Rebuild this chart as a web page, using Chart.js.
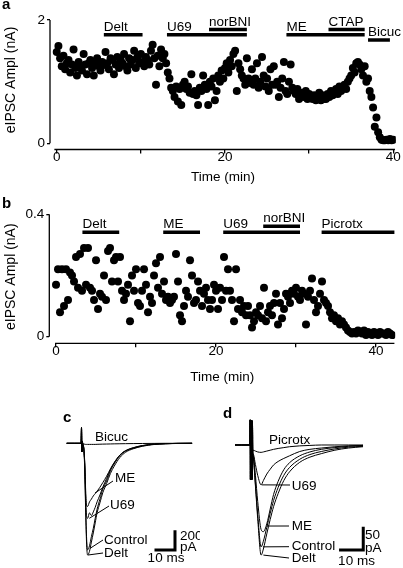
<!DOCTYPE html>
<html>
<head>
<meta charset="utf-8">
<script src="https://cdn.jsdelivr.net/npm/chart.js@4.4.1/dist/chart.umd.min.js"></script>
<style>
  body { margin: 0; background: #fff; }
  #wrap { position: relative; width: 403px; height: 568px; }
  canvas { position: absolute; }
</style>
</head>
<body>
<div id="wrap">
  <canvas id="chartA" width="403" height="190" style="left:0px;top:0px"></canvas>
  <canvas id="chartB" width="403" height="200" style="left:0px;top:190px"></canvas>
  <canvas id="chartC" width="200" height="178" style="left:0px;top:390px"></canvas>
  <canvas id="chartD" width="203" height="178" style="left:200px;top:390px"></canvas>
</div>
<script>
const FONT = "'Liberation Sans', Arial, sans-serif";
Chart.defaults.font.family = FONT;
Chart.defaults.font.size = 13.5;
Chart.defaults.color = '#000';

// ---- panel a : eIPSC amplitude (nA) vs time (min)
const timeA = [
  0, 0.2, 0.4, 0.6, 0.8, 1, 1.2, 1.4, 1.6, 1.8,
  2, 2.2, 2.4, 2.6, 2.8, 3, 3.2, 3.4, 3.6, 3.8,
  4, 4.2, 4.4, 4.6, 4.8, 5, 5.2, 5.4, 5.6, 5.8,
  6, 6.2, 6.4, 6.6, 6.8, 7, 7.2, 7.4, 7.6, 7.8,
  8, 8.2, 8.4, 8.6, 8.8, 9, 9.2, 9.4, 9.6, 9.8,
  10, 10.2, 10.4, 10.6, 10.8, 11, 11.2, 11.4, 11.6, 11.8,
  12, 12.2, 12.4, 12.6, 12.8, 13, 13.2, 13.4, 13.6, 13.8,
  14, 14.2, 14.4, 14.6, 14.8, 15, 15.2, 15.4, 15.6, 15.8,
  16, 16.2, 16.4, 16.6, 16.8, 17, 17.2, 17.4, 17.6, 17.8,
  18, 18.2, 18.4, 18.6, 18.8, 19, 19.2, 19.4, 19.6, 19.8,
  20, 20.2, 20.4, 20.6, 20.8, 21, 21.2, 21.4, 21.6, 21.8,
  22, 22.2, 22.4, 22.6, 22.8, 23, 23.2, 23.4, 23.6, 23.8,
  24, 24.2, 24.4, 24.6, 24.8, 25, 25.2, 25.4, 25.6, 25.8,
  26, 26.2, 26.4, 26.6, 26.8, 27, 27.2, 27.4, 27.6, 27.8,
  28, 28.2, 28.4, 28.6, 28.8, 29, 29.2, 29.4, 29.6, 29.8,
  30, 30.2, 30.4, 30.6, 30.8, 31, 31.2, 31.4, 31.6, 31.8,
  32, 32.2, 32.4, 32.6, 32.8, 33, 33.2, 33.4, 33.6, 33.8,
  34, 34.2, 34.4, 34.6, 34.8, 35, 35.2, 35.4, 35.6, 35.8,
  36, 36.2, 36.4, 36.6, 36.8, 37, 37.2, 37.4, 37.6, 37.8,
  38, 38.2, 38.4, 38.6, 38.8, 39, 39.2, 39.4, 39.6, 39.8,
  40
];
const ampA = [
  1.48, 1.58, 1.38, 1.25, 1.42, 1.20, 1.30, 1.35, 1.15, 1.28,
  1.52, 1.22, 1.10, 1.32, 1.25, 1.18, 1.45, 1.28, 1.12, 1.30,
  1.35, 1.22, 1.10, 1.30, 1.38, 1.25, 1.18, 1.32, 1.27, 1.48,
  1.30, 1.20, 1.38, 1.35, 1.12, 1.28, 1.40, 1.22, 1.35, 1.30,
  1.45, 1.25, 1.18, 1.38, 1.28, 1.35, 1.50, 1.22, 1.40, 1.30,
  1.45, 1.32, 1.25, 1.40, 1.35, 1.28, 1.50, 1.60, 1.38, 0.95,
  1.42, 1.25, 1.52, 1.38, 1.45, 1.30, 1.15, 1.05, 0.90, 0.85,
  0.75, 0.92, 0.68, 0.88, 0.62, 0.95, 1.00, 0.88, 0.92, 0.82,
  1.12, 0.80, 0.85, 0.78, 0.62, 0.90, 0.85, 1.10, 0.95, 0.88,
  0.62, 1.00, 0.92, 1.05, 0.70, 0.85, 1.10, 1.00, 1.18, 1.05,
  1.22, 1.30, 1.15, 1.35, 1.25, 1.45, 1.50, 0.85, 1.30, 1.20,
  1.10, 1.05, 0.95, 1.38, 1.05, 0.98, 1.20, 0.95, 1.05, 1.30,
  0.90, 1.00, 1.40, 1.10, 0.92, 1.05, 0.85, 1.20, 0.95, 1.25,
  0.95, 1.00, 0.75, 0.90, 1.05, 1.32, 0.85, 0.80, 1.00, 1.28,
  0.90, 0.85, 0.80, 0.88, 0.72, 0.82, 0.78, 0.75, 0.85, 0.72,
  0.80, 0.75, 0.72, 0.78, 0.70, 0.75, 0.82, 0.70, 0.78, 0.72,
  0.72, 0.80, 0.75, 0.85, 0.78, 0.82, 0.88, 0.80, 0.92, 0.85,
  0.90, 0.95, 0.88, 1.00, 1.05, 1.10, 1.22, 1.15, 1.30, 1.32,
  1.28, 1.20, 1.10, 1.25, 1.00, 1.05, 0.85, 0.75, 0.58, 0.27,
  0.42, 0.18, 0.10, 0.06, 0.05, 0.05, 0.06, 0.05, 0.07, 0.05,
  0.06
];
const drugsA = ['Delt', 'U69', 'norBNI', 'ME', 'CTAP', 'Bicuc'];
const drugOnA = [5.6, 13.1, 18.1, 27.3, 32.3, 37.0];
const drugOffA = [10.2, 22.6, 22.6, 36.6, 36.6, 39.6];

// ---- panel b
const timeB = [
  0, 0.25, 0.5, 0.75, 1, 1.25, 1.5, 1.75,
  2, 2.25, 2.5, 2.75, 3, 3.25, 3.5, 3.75,
  4, 4.25, 4.5, 4.75, 5, 5.25, 5.5, 5.75,
  6, 6.25, 6.5, 6.75, 7, 7.25, 7.5, 7.75,
  8, 8.25, 8.5, 8.75, 9, 9.25, 9.5, 9.75,
  10, 10.25, 10.5, 10.75, 11, 11.25, 11.5, 11.75,
  12, 12.25, 12.5, 12.75, 13, 13.25, 13.5, 13.75,
  14, 14.25, 14.5, 14.75, 15, 15.25, 15.5, 15.75,
  16, 16.25, 16.5, 16.75, 17, 17.25, 17.5, 17.75,
  18, 18.25, 18.5, 18.75, 19, 19.25, 19.5, 19.75,
  20, 20.25, 20.5, 20.75, 21, 21.25, 21.5, 21.75,
  22, 22.25, 22.5, 22.75, 23, 23.25, 23.5, 23.75,
  24, 24.25, 24.5, 24.75, 25, 25.25, 25.5, 25.75,
  26, 26.25, 26.5, 26.75, 27, 27.25, 27.5, 27.75,
  28, 28.25, 28.5, 28.75, 29, 29.25, 29.5, 29.75,
  30, 30.25, 30.5, 30.75, 31, 31.25, 31.5, 31.75,
  32, 32.25, 32.5, 32.75, 33, 33.25, 33.5, 33.75,
  34, 34.25, 34.5, 34.75, 35, 35.25, 35.5, 35.75,
  36, 36.25, 36.5, 36.75, 37, 37.25, 37.5, 37.75,
  38, 38.25, 38.5, 38.75, 39, 39.25, 39.5, 39.75,
  40, 40.25, 40.5, 40.75, 41, 41.25, 41.5, 41.75,
  42
];
const ampB = [
  0.17, 0.22, 0.08, 0.22, 0.10, 0.22, 0.12, 0.21,
  0.20, 0.18, 0.26, 0.16, 0.27, 0.15, 0.29, 0.17,
  0.29, 0.16, 0.15, 0.12, 0.25, 0.09, 0.14, 0.13,
  0.20, 0.12, 0.28, 0.29, 0.18, 0.25, 0.26, 0.18,
  0.26, 0.15, 0.12, 0.14, 0.17, 0.05, 0.20, 0.15,
  0.22, 0.11, 0.10, 0.15, 0.22, 0.17, 0.08, 0.13,
  0.11, 0.20, 0.24, 0.16, 0.26, 0.14, 0.18, 0.12,
  0.13, 0.11, 0.12, 0.13, 0.27, 0.18, 0.07, 0.05,
  0.10, 0.15, 0.13, 0.25, 0.20, 0.11, 0.12, 0.18,
  0.15, 0.10, 0.14, 0.16, 0.12, 0.09, 0.12, 0.17,
  0.15, 0.09, 0.16, 0.12, 0.26, 0.15, 0.22, 0.15,
  0.12, 0.05, 0.22, 0.09, 0.12, 0.08, 0.10, 0.07,
  0.10, 0.07, 0.03, 0.05, 0.08, 0.07, 0.10, 0.06,
  0.16, 0.05, 0.08, 0.10, 0.07, 0.11, 0.14, 0.04,
  0.11, 0.06, 0.09, 0.14, 0.13, 0.11, 0.15, 0.14,
  0.16, 0.13, 0.12, 0.15, 0.14, 0.04, 0.13, 0.15,
  0.19, 0.12, 0.08, 0.10, 0.14, 0.18, 0.12, 0.11,
  0.10, 0.08, 0.06, 0.07, 0.05, 0.06, 0.04, 0.05,
  0.04, 0.03, 0.02, 0.015, 0.01, 0.015, 0.01, 0.02,
  0.015, 0.01, 0.02, 0.005, 0.015, 0.01, 0.005, 0.015,
  0.01, 0.005, 0.015, 0.01, 0.01, 0.005, 0.015, 0.01,
  0.005
];
const drugsB = ['Delt', 'ME', 'U69', 'norBNI', 'Picrotx'];
const drugOnB = [3.3, 13.4, 20.9, 25.9, 33.2];
const drugOffB = [7.9, 18.0, 30.5, 30.5, 42.3];

// ---- panel c : averaged eIPSC traces (pA vs ms)
const timeC = [0, 4, 7.6, 7.8, 8.0, 8.2, 8.5, 9.0, 9.5, 10.0, 10.5, 11, 12, 13, 14, 15, 16, 17.5, 19, 21, 23, 25, 28, 31, 35, 40, 46, 52, 58, 66];
const controlC = [0, 0, 0, 170, -95, 20, -10, -60, -250, -700, -1050, -1165, -1120, -1020, -930, -820, -720, -610, -500, -410, -300, -225, -135, -85, -55, -28, -10, -4, -1, 0];
const deltC = [0, 0, 0, 170, -95, 20, -10, -70, -290, -760, -1110, -1220, -1180, -1080, -980, -870, -760, -650, -540, -440, -330, -250, -155, -98, -60, -32, -13, -5, -2, 0];
const u69C = [0, 0, 0, 170, -95, 20, -10, -55, -230, -600, -800, -820, -760, -790, -750, -700, -640, -565, -480, -385, -290, -215, -130, -82, -50, -25, -10, -4, -1, 0];
const meC = [0, 0, 0, 170, -95, 20, -10, -50, -210, -520, -680, -690, -640, -610, -575, -550, -525, -480, -430, -360, -280, -210, -128, -80, -48, -24, -10, -4, -1, 0];
const bicucC = [0, 0, 0, 170, -95, 20, -10, -8, -10, -12, -12, -12, -12, -12, -12, -12, -11, -10, -9, -8, -7, -6, -5, -4, -3, -2, -1, 0, 0, 0];

// ---- panel d
const timeD = [0, 3, 6.6, 6.7, 6.8, 6.9, 7.0, 7.1, 7.2, 7.3, 7.4, 7.5, 7.6, 7.7, 7.8, 8.0, 9, 10, 11.5, 12.5, 14, 15.5, 17, 19, 21.5, 24, 28.5, 33, 38, 44, 50, 56.4];
const controlD = [0, 0, 0, 58, -80, 55, -78, 57, -80, 52, -76, 56, -79, 50, -15, -25, -90, -160, -235, -222, -190, -158, -128, -98, -70, -52, -33, -22, -15, -9, -5, -3];
const deltD = [0, 0, 0, 58, -80, 55, -78, 57, -80, 52, -76, 56, -79, 50, -15, -27, -95, -170, -254, -240, -205, -172, -142, -112, -82, -62, -40, -28, -20, -12, -7, -4];
const meD = [0, 0, 0, 58, -80, 55, -78, 57, -80, 52, -76, 56, -79, 50, -15, -22, -70, -130, -195, -200, -182, -148, -114, -84, -57, -41, -25, -16, -10, -6, -3, -1];
const u69D = [0, 0, 0, 58, -80, 55, -78, 57, -80, 52, -76, 56, -79, 50, -15, -20, -45, -70, -92, -82, -67, -56, -46, -38, -31, -25, -15, -10, -7, -4, -2, -1];
const picrotxD = [0, 0, 0, 58, -80, 55, -78, 57, -80, 52, -76, 56, -79, 50, -15, -12, -14, -16, -17, -16, -14, -12, -10, -8, -6, -4, -2, -1, 0, 0, 0, 0];

// where the drug bars sit (layout, in y units)
const barRowA = [1.76, 1.76, 1.845, 1.76, 1.845, 1.675];
const barRowB = [0.341, 0.341, 0.341, 0.361, 0.341];

function scatterPanel(id, c) {
  const deco = {
    id: 'deco',
    afterDraw(chart) {
      const { ctx, chartArea: ca, scales: { x, y } } = chart;
      ctx.save();
      ctx.strokeStyle = '#000';
      ctx.lineWidth = 1.3;
      ctx.beginPath();
      // detached axes
      ctx.moveTo(ca.left, y.getPixelForValue(c.yTicks[c.yTicks.length - 1]));
      ctx.lineTo(ca.left, y.getPixelForValue(0));
      ctx.moveTo(x.getPixelForValue(c.xLine[0]), ca.bottom);
      ctx.lineTo(x.getPixelForValue(c.xLine[1]), ca.bottom);
      ctx.stroke();
      ctx.fillStyle = '#000';
      ctx.font = '13.5px ' + FONT;
      ctx.textAlign = 'left';
      ctx.textBaseline = 'alphabetic';
      c.drugs.forEach((name, i) => {
        ctx.fillText(name, x.getPixelForValue(c.on[i]), y.getPixelForValue(c.row[i]) - 4);
      });
      ctx.font = 'bold 15px ' + FONT;
      ctx.fillText(c.letter, 2, c.letterY);
      ctx.translate(11, c.titleY);
      ctx.rotate(-Math.PI / 2);
      ctx.font = '14px ' + FONT;
      ctx.textAlign = 'center';
      ctx.textBaseline = 'middle';
      ctx.fillText('eIPSC Ampl (nA)', 0, 0);
      ctx.restore();
    }
  };
  const bars = c.drugs.map((n, i) => ({
    type: 'line',
    data: [{ x: c.on[i], y: c.row[i] }, { x: c.off[i], y: c.row[i] }],
    borderColor: '#000', borderWidth: 3.5, pointRadius: 0, borderCapStyle: 'butt'
  }));
  return new Chart(document.getElementById(id), {
    type: 'scatter',
    data: {
      datasets: [{
        data: c.t.map((t, i) => ({ x: t, y: c.v[i] })),
        pointRadius: 4, pointBackgroundColor: '#000', pointBorderWidth: 0,
        backgroundColor: '#000'
      }, ...bars]
    },
    options: {
      responsive: false, animation: false, devicePixelRatio: 1,
      layout: { padding: c.pad },
      plugins: { legend: { display: false }, tooltip: { enabled: false } },
      scales: {
        x: {
          type: 'linear', min: c.xMin, max: c.xMax,
          border: { display: false },
          grid: { drawOnChartArea: false, tickLength: 4, color: '#000', lineWidth: 1.3 },
          ticks: {
            padding: -4, maxRotation: 0, autoSkip: false,
            callback: v => (v % 20 === 0 ? String(v) : '')
          },
          afterBuildTicks: s => { s.ticks = c.xTicks.map(v => ({ value: v })); },
          afterFit: s => { s.height = c.xHeight; },
          title: { display: true, text: 'Time (min)', font: { size: 13.5 }, padding: { top: 0, bottom: 5 } }
        },
        y: {
          min: c.yMin, max: c.yMax,
          border: { display: false },
          grid: { drawOnChartArea: false, tickLength: 3, color: '#000', lineWidth: 1.3 },
          ticks: { padding: 2, callback: v => String(v) },
          afterBuildTicks: s => { s.ticks = c.yTicks.map(v => ({ value: v })); },
          afterFit: s => { s.width = c.yWidth; }
        }
      }
    },
    plugins: [deco]
  });
}

scatterPanel('chartA', {
  t: timeA, v: ampA, drugs: drugsA, on: drugOnA, off: drugOffA, row: barRowA,
  xMin: -0.8, xMax: 40.3, yMin: -0.1, yMax: 2,
  xTicks: [0, 10, 20, 30, 40], yTicks: [0, 2], xLine: [-0.28, 40.2],
  pad: { top: 20, right: 7.2, left: 0, bottom: 0 }, xHeight: 40.5, yWidth: 50,
  letter: 'a', letterY: 8.5, titleY: 80
});
scatterPanel('chartB', {
  t: timeB, v: ampB, drugs: drugsB, on: drugOnB, off: drugOffB, row: barRowB,
  xMin: -0.84, xMax: 42.4, yMin: -0.0218, yMax: 0.4,
  xTicks: [0, 10, 20, 30, 40], yTicks: [0, 0.4], xLine: [-0.12, 42.3],
  pad: { top: 24.3, right: 7.8, left: 0, bottom: 0 }, xHeight: 46.7, yWidth: 49.3,
  letter: 'b', letterY: 18, titleY: 86.7
});

function tracePanel(id, c) {
  const deco = {
    id: 'traceDeco',
    afterDraw(chart) {
      const { ctx, scales: { x, y } } = chart;
      ctx.save();
      ctx.strokeStyle = '#000';
      ctx.fillStyle = '#000';
      ctx.lineWidth = 1;
      ctx.font = '13.5px ' + FONT;
      ctx.textAlign = 'left';
      ctx.textBaseline = 'middle';
      c.labels.forEach(l => {
        ctx.fillText(l.text, l.x, l.y);
        if (l.to) {
          ctx.beginPath();
          ctx.moveTo(l.from[0], l.from[1]);
          ctx.lineTo(x.getPixelForValue(l.to[0]), y.getPixelForValue(l.to[1]));
          ctx.stroke();
        }
      });
      // scale bar
      const cx = x.getPixelForValue(c.bar.t), cy = y.getPixelForValue(c.bar.pA);
      ctx.lineWidth = 3;
      ctx.lineCap = 'square';
      ctx.beginPath();
      ctx.moveTo(x.getPixelForValue(c.bar.t - c.bar.ms), cy);
      ctx.lineTo(cx, cy);
      ctx.lineTo(cx, y.getPixelForValue(c.bar.pA + c.bar.amp));
      ctx.stroke();
      c.barText.forEach(l => {
        ctx.textAlign = l.align || 'left';
        ctx.fillText(l.text, l.x, l.y);
      });
      ctx.textAlign = 'left';
      ctx.textBaseline = 'alphabetic';
      ctx.font = 'bold 15px ' + FONT;
      ctx.fillText(c.letter, c.letterPos[0], c.letterPos[1]);
      ctx.restore();
    }
  };
  return new Chart(document.getElementById(id), {
    type: 'line',
    data: {
      datasets: c.traces.map(tr => ({
        data: c.t.map((t, i) => ({ x: t, y: tr[i] })),
        borderColor: '#000', borderWidth: 1, pointRadius: 0,
        cubicInterpolationMode: 'monotone'
      }))
    },
    options: {
      responsive: false, animation: false, devicePixelRatio: 1,
      layout: { padding: 0 },
      plugins: { legend: { display: false }, tooltip: { enabled: false } },
      scales: {
        x: { type: 'linear', display: false, min: c.xMin, max: c.xMax },
        y: { display: false, min: c.yMin, max: c.yMax }
      }
    },
    plugins: [deco]
  });
}

tracePanel('chartC', {
  t: timeC, traces: [bicucC, meC, u69C, controlC, deltC],
  xMin: -35.1, xMax: 70.16, yMin: -1362.8, yMax: 582.5,
  labels: [
    { text: 'Bicuc', x: 95, y: 47 },
    { text: 'ME', x: 115, y: 88, from: [113, 91], to: [14.9, -543] },
    { text: 'U69', x: 110, y: 115, from: [109, 116], to: [11.9, -820] },
    { text: 'Control', x: 104, y: 150, from: [103, 150], to: [12.3, -1148] },
    { text: 'Delt', x: 104, y: 163, from: [103, 163], to: [11.2, -1221] }
  ],
  bar: { t: 57.0, pA: -1166, ms: 10, amp: 200 },
  barText: [
    { text: '200', x: 180, y: 146 },
    { text: 'pA', x: 180, y: 157 },
    { text: '10 ms', x: 166, y: 168, align: 'center' }
  ],
  letter: 'c', letterPos: [63, 31.7]
});

tracePanel('chartD', {
  t: timeD, traces: [picrotxD, u69D, meD, controlD, deltD],
  xMin: -15.42, xMax: 74.01, yMin: -283.8, yMax: 126.9,
  labels: [
    { text: 'Picrotx', x: 69, y: 50 },
    { text: 'U69', x: 91.7, y: 96.7, from: [90, 95], to: [11.8, -92] },
    { text: 'ME', x: 91.7, y: 136.7, from: [89, 136], to: [13.9, -187] },
    { text: 'Control', x: 91.7, y: 156.7, from: [89, 156.7], to: [12.3, -235] },
    { text: 'Delt', x: 91.7, y: 168, from: [89, 168], to: [12.5, -254] }
  ],
  bar: { t: 56.5, pA: -242, ms: 10, amp: 50 },
  barText: [
    { text: '50', x: 165, y: 145 },
    { text: 'pA', x: 165, y: 158.3 },
    { text: '10 ms', x: 156.5, y: 171.7, align: 'center' }
  ],
  letter: 'd', letterPos: [23, 28.3]
});
</script>
</body>
</html>
